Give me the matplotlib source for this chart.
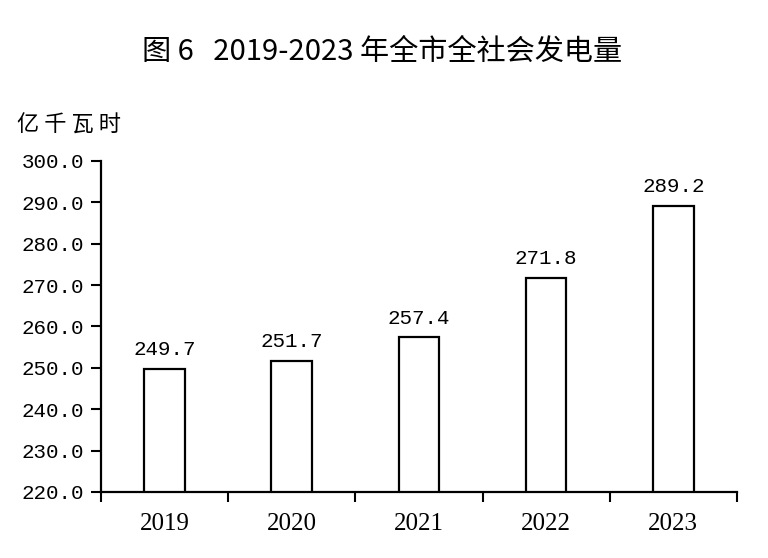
import matplotlib.pyplot as plt
from matplotlib.ticker import FixedLocator

years = ['2019', '2020', '2021', '2022', '2023']
values = [249.7, 251.7, 257.4, 271.8, 289.2]
yticks = [220, 230, 240, 250, 260, 270, 280, 290, 300]

cjk = ['Noto Sans CJK SC', 'DejaVu Sans']

fig = plt.figure(figsize=(7.68, 5.58), dpi=100)
ax = fig.add_axes([0.1315, 0.1183, 0.828, 0.5932])

x = list(range(len(years)))
ax.bar(x, values, width=0.32, color='white', edgecolor='black', linewidth=1.6)

for xi, v in zip(x, values):
    ax.annotate('{:.1f}'.format(v), (xi, v), xytext=(0, 7), textcoords='offset points',
                ha='center', va='bottom', fontsize=15, family='Liberation Mono')

ax.set_xlim(-0.5, len(years) - 0.5)
ax.set_ylim(220, 300)
ax.set_yticks(yticks)
ax.set_yticklabels(['{:.1f}'.format(t) for t in yticks], family='Liberation Mono', fontsize=15)
ax.set_xticks(x)
ax.set_xticklabels(years, family='Liberation Serif', fontsize=18)
ax.xaxis.set_minor_locator(FixedLocator([i - 0.5 for i in range(len(years) + 1)]))

ax.tick_params(axis='x', which='major', length=0, pad=15)
ax.tick_params(axis='x', which='minor', length=7, width=1.5, direction='out')
ax.tick_params(axis='y', length=7, width=1.5, direction='out', pad=5)

for s in ['top', 'right']:
    ax.spines[s].set_visible(False)
for s in ['left', 'bottom']:
    ax.spines[s].set_linewidth(1.6)

fig.text(0.497, 0.907, '图 6   2019-2023 年全市全社会发电量', ha='center', va='center',
         fontsize=21, family=cjk, fontweight='medium')
fig.text(0.022, 0.776, '亿 千 瓦 时', ha='left', va='center', fontsize=16, family=cjk)

plt.savefig('out.png', dpi=100, facecolor='white')
